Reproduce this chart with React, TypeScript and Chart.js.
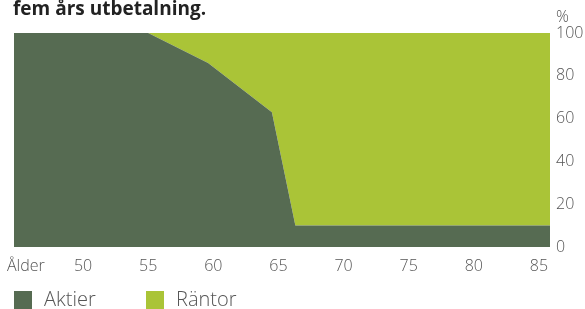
import React, { useEffect, useRef } from "react";
import { Chart, registerables } from "chart.js";

Chart.register(...registerables);

const ages = [44.7, 55, 59.6, 64.5, 66.3, 85.85];
const aktier = [100, 100, 86, 63, 10, 10];
const rantor = [0, 0, 14, 37, 90, 90];
const xTicks = [50, 55, 60, 65, 70, 75, 80, 85];
const yTicks = [0, 20, 40, 60, 80, 100];
const seriesNames = ["Aktier", "Räntor"];
const titleText = "fem års utbetalning.";

const DARK = "#566b52";
const LIGHT = "#aac437";
const TEXT = "#555555";
const FONT = "'Open Sans', sans-serif";

export default function App() {
  const ref = useRef<HTMLCanvasElement | null>(null);
  useEffect(() => {
    document.body.style.margin = "0";
    const canvas = ref.current!;
    const overlay = {
      id: "overlay",
      afterDraw(chart: any) {
        const ctx = chart.ctx;
        const area = chart.chartArea;
        ctx.save();
        ctx.fillStyle = "#222";
        ctx.font = `bold 19px ${FONT}`;
        ctx.textBaseline = "alphabetic";
        ctx.textAlign = "left";
        ctx.fillText(titleText, 13, 15);
        ctx.fillStyle = TEXT;
        ctx.font = `300 16px ${FONT}`;
        ctx.textBaseline = "middle";
        ctx.fillText("%", area.right + 6, 17);
        ctx.fillText("Ålder", 7, 266);
        // legend
        const colors = [DARK, LIGHT];
        const xs = [14, 146];
        ctx.font = `300 20px ${FONT}`;
        seriesNames.forEach((n, i) => {
          ctx.fillStyle = colors[i];
          ctx.fillRect(xs[i], 291, 18, 18);
          ctx.fillStyle = TEXT;
          ctx.fillText(n, xs[i] + 30, 300);
        });
        ctx.restore();
      },
    };
    const chart = new Chart(canvas, {
      type: "line",
      data: {
        labels: ages,
        datasets: [
          {
            label: seriesNames[0],
            data: ages.map((a, i) => ({ x: a, y: aktier[i] })),
            fill: "origin",
            backgroundColor: DARK,
            borderColor: DARK,
            borderWidth: 0,
            pointRadius: 0,
            tension: 0,
          },
          {
            label: seriesNames[1],
            data: ages.map((a, i) => ({ x: a, y: rantor[i] })),
            fill: "-1",
            backgroundColor: LIGHT,
            borderColor: LIGHT,
            borderWidth: 0,
            pointRadius: 0,
            tension: 0,
          },
        ],
      },
      options: {
        animation: false,
        responsive: false,
        maintainAspectRatio: false,
        layout: { padding: { left: 14, top: 33, right: 0, bottom: 32 } },
        plugins: { legend: { display: false }, tooltip: { enabled: false } },
        scales: {
          x: {
            type: "linear",
            min: ages[0],
            max: ages[ages.length - 1],
            grid: { display: false, drawTicks: false },
            border: { display: false },
            afterBuildTicks: (s: any) => {
              s.ticks = xTicks.map((v) => ({ value: v }));
            },
            afterFit: (s: any) => {
              s.height = 30;
            },
            ticks: {
              color: TEXT,
              font: { family: FONT, size: 16, weight: "300" },
              padding: 10,
              maxRotation: 0,
              autoSkip: false,
            },
          },
          y: {
            position: "right",
            stacked: true,
            min: 0,
            max: 100,
            grid: { display: false, drawTicks: false },
            border: { display: false },
            afterBuildTicks: (s: any) => {
              s.ticks = yTicks.map((v) => ({ value: v }));
            },
            afterFit: (s: any) => {
              s.width = 35;
            },
            ticks: {
              color: TEXT,
              font: { family: FONT, size: 16, weight: "300" },
              padding: 6,
              crossAlign: "near",
            },
          },
        },
      },
      plugins: [overlay],
    } as any);
    return () => chart.destroy();
  }, []);
  return (
    <div style={{ position: "absolute", left: 0, top: 0, width: 585, height: 309 }}>
      <canvas ref={ref} width={585} height={309} style={{ width: 585, height: 309 }} />
    </div>
  );
}
